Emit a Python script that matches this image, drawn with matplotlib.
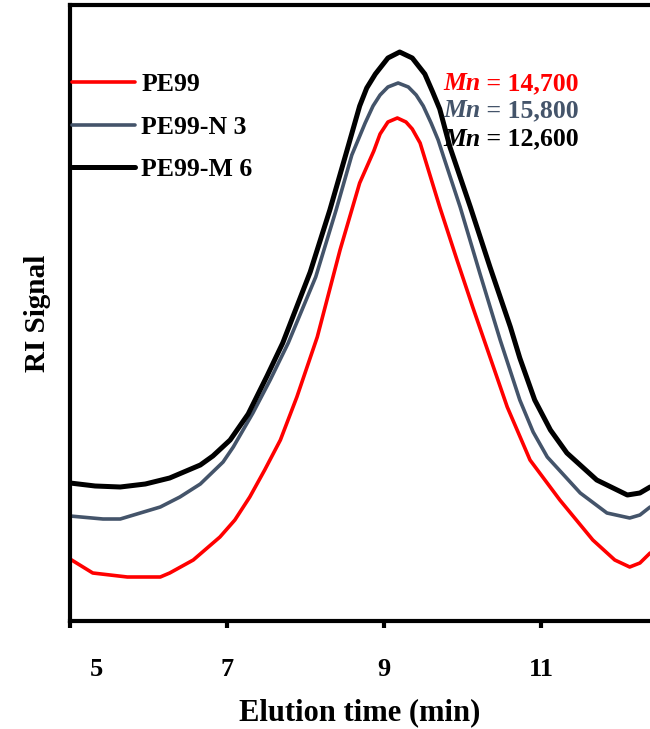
import matplotlib
matplotlib.use("Agg")
import matplotlib.pyplot as plt
import matplotlib.transforms as mtransforms

plt.rcParams['font.family'] = ['Liberation Serif', 'DejaVu Serif']
plt.rcParams['font.weight'] = 'bold'

# Elution time (min) and RI signal (arbitrary units)
pe99_t = [5.00, 5.29, 5.73, 6.15, 6.27, 6.57, 6.91, 7.10, 7.29, 7.48, 7.68, 7.89,
          8.15, 8.44, 8.69, 8.78, 8.87, 8.95, 9.05, 9.17, 9.28, 9.36, 9.46,
          9.71, 9.93, 10.13, 10.35, 10.57, 10.86, 11.24, 11.66, 11.94, 12.13,
          12.26, 12.39]
pe99_s = [62, 48, 44, 44, 48, 61, 84, 101, 124, 151, 181, 224,
          284, 371, 438, 454, 470, 487, 499, 503, 499, 492, 478,
          414, 361, 314, 264, 214, 161, 121, 81, 61, 54,
          58, 68]

n3_t = [5.00, 5.42, 5.64, 6.15, 6.40, 6.66, 6.95, 7.08, 7.33, 7.55, 7.78, 8.13,
        8.39, 8.59, 8.67, 8.76, 8.86, 8.95, 9.05, 9.18, 9.31, 9.41, 9.50,
        9.60, 9.69, 9.76, 9.97, 10.22, 10.48, 10.73, 10.90, 11.08, 11.50,
        11.84, 12.13, 12.26, 12.39]
n3_s = [105, 102, 102, 114, 124, 137, 159, 174, 208, 241, 278, 344,
        411, 466, 481, 498, 515, 526, 534, 538, 534, 526, 515,
        498, 481, 464, 414, 348, 281, 221, 189, 164, 128,
        108, 103, 106, 114]

m6_t = [5.00, 5.32, 5.64, 5.96, 6.27, 6.66, 6.82, 7.04, 7.27, 7.51, 7.71, 8.06,
        8.31, 8.53, 8.61, 8.69, 8.78, 8.89, 9.05, 9.20, 9.36, 9.52, 9.62,
        9.71, 9.84, 10.10, 10.35, 10.61, 10.73, 10.92, 11.12, 11.33, 11.71,
        12.10, 12.26, 12.39]
m6_s = [138, 135, 134, 137, 143, 156, 165, 181, 207, 245, 278, 349,
        411, 471, 493, 515, 533, 547, 563, 569, 563, 547, 529,
        512, 474, 414, 354, 294, 263, 221, 191, 168, 141,
        126, 128, 134]

series_labels = ['PE99', 'PE99-N 3', 'PE99-M 6']
mn_values = ['14,700', '15,800', '12,600']
colors = ['#FF0000', '#44546A', '#000000']
widths = [2.6, 2.6, 3.6]
x_ticks = [5, 7, 9, 11]

fig = plt.figure(figsize=(6.5, 7.29), dpi=100)
ax = fig.add_axes([70/650, 1-621/729, 1-70/650, (621-5)/729])

for t, s, c, w, lab in zip([pe99_t, n3_t, m6_t], [pe99_s, n3_s, m6_s],
                           colors, widths, series_labels):
    ax.plot(t, s, color=c, lw=w, label=lab, solid_joinstyle='round',
            solid_capstyle='round')

ax.set_xlim(5, 5 + 580/78.5)
ax.set_ylim(0, 616)
ax.set_yticks([])
ax.set_xticks(x_ticks)
ax.set_xticklabels([str(v) for v in x_ticks])
ax.tick_params(axis='x', direction='out', length=5, width=3, pad=22,
               labelsize=19)
for lbl in ax.get_xticklabels():
    lbl.set_fontweight('bold')
first = ax.get_xticklabels()[0]
first.set_transform(first.get_transform() +
                    mtransforms.ScaledTranslation(26/100, 0, fig.dpi_scale_trans))

for side in ['left', 'bottom', 'top']:
    ax.spines[side].set_linewidth(3)
ax.spines['right'].set_visible(False)

ax.set_xlabel('Elution time (min)', fontsize=22, fontweight='bold', labelpad=12)
ax.set_ylabel('RI Signal', fontsize=21, fontweight='bold', labelpad=14)

leg = ax.legend(loc='upper left', bbox_to_anchor=(0.003, 0.89), frameon=False,
                fontsize=18.5, handlelength=2.45, handletextpad=0.25,
                labelspacing=0.77, borderpad=0, borderaxespad=0)
for txt in leg.get_texts():
    txt.set_fontweight('bold')

ys = [0.872, 0.828, 0.782]
for y, v, c in zip(ys, mn_values, colors):
    t1 = ax.text(0.643, y, 'Mn', transform=ax.transAxes, fontsize=18.5,
                 fontweight='bold', style='italic', color=c, va='center',
                 ha='left')
    ax.annotate(' = ' + v, xy=(1, 0), xycoords=t1, va='bottom', ha='left',
                fontsize=18.5, fontweight='bold', color=c)

fig.savefig('out.png', dpi=100)
